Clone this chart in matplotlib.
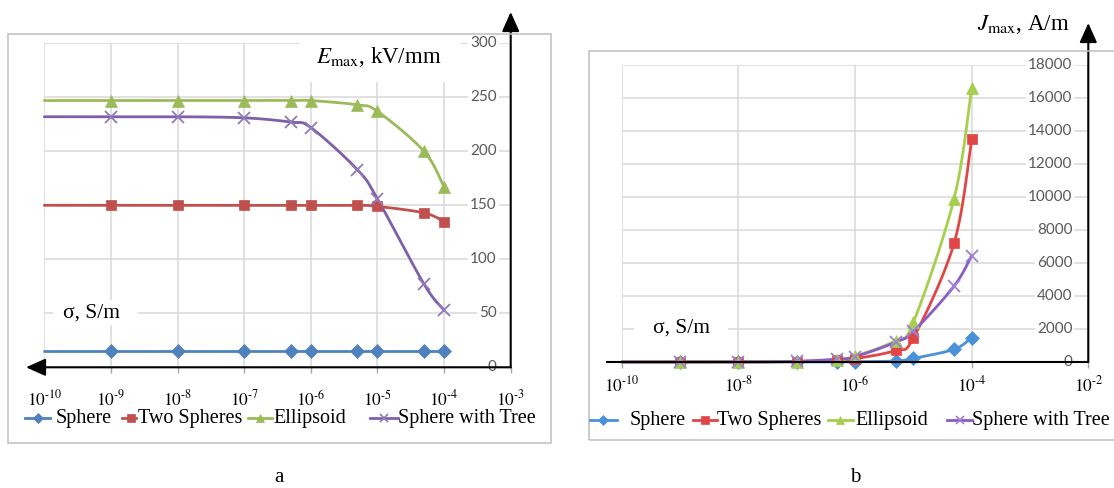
import numpy as np
import matplotlib
matplotlib.use("Agg")
import matplotlib.pyplot as plt
from matplotlib.lines import Line2D
from matplotlib.patches import Rectangle
from matplotlib.ticker import NullLocator

# ---------------- data ----------------
sigma = [1e-10, 1e-9, 1e-8, 1e-7, 5e-7, 1e-6, 5e-6, 1e-5, 5e-5, 1e-4]

series_names = ["Sphere", "Two Spheres", "Ellipsoid", "Sphere with Tree"]

# panel a: E_max, kV/mm
E_sphere = [15, 15, 15, 15, 15, 15, 15, 15, 15, 15]
E_two = [150, 150, 150, 150, 150, 150, 150, 149, 143, 135]
E_ellipsoid = [247, 247, 247, 247, 247, 247, 243, 237, 200, 167]
E_tree = [232, 232, 232, 231, 227, 222, 183, 156, 77, 53]

# panel b: J_max, A/m
J_sphere = [0, 0, 0, 0, 10, 20, 60, 220, 770, 1480]
J_two = [0, 0, 0, 30, 120, 200, 700, 1450, 7200, 13500]
J_ellipsoid = [0, 0, 0, 30, 120, 350, 1300, 2400, 9900, 16600]
J_tree = [0, 0, 0, 40, 180, 320, 1200, 1850, 4600, 6450]

HY = "\u2010"
xticks_a = [1e-10, 1e-9, 1e-8, 1e-7, 1e-6, 1e-5, 1e-4, 1e-3]
xlabels_a = [f"$10^{{{HY}{k}}}$" for k in (10, 9, 8, 7, 6, 5, 4, 3)]
yticks_a = [0, 50, 100, 150, 200, 250, 300]

xticks_b = [1e-10, 1e-8, 1e-6, 1e-4, 1e-2]
xlabels_b = [f"$10^{{{HY}{k}}}$" for k in (10, 8, 6, 4, 2)]
yticks_b = [0, 2000, 4000, 6000, 8000, 10000, 12000, 14000, 16000, 18000]

# ---------------- style ----------------
plt.rcParams["mathtext.fontset"] = "stix"
plt.rcParams["font.family"] = ["Liberation Serif", "DejaVu Serif"]
SERIF = ["Liberation Serif", "DejaVu Serif"]
SANS = ["Lato", "DejaVu Sans"]

cols_a = ["#4F81BD", "#C0504D", "#9BBB59", "#7F5FA8"]
cols_b = ["#4A90DA", "#E04646", "#A5CF4C", "#8A5CC6"]
mcol_tree_a = "#9179B8"
mcol_tree_b = "#9C7FD8"
markers = ["D", "s", "^", "x"]
msizes = [7, 7.5, 8, 8]

W, H = 1114, 488
fig = plt.figure(figsize=(W / 100, H / 100), dpi=100)
fig.patch.set_facecolor("white")


def fx(px):
    return px / W


def fy(py):
    return 1 - py / H


def smooth(xs, ys, n=24):
    u = np.log10(np.asarray(xs, float))
    v = np.asarray(ys, float)
    pts = np.column_stack([u, v])
    P = np.vstack([pts[0], pts, pts[-1]])
    out = []
    t = np.linspace(0, 1, n, endpoint=False)[:, None]
    for i in range(1, len(P) - 2):
        p0, p1, p2, p3 = P[i - 1], P[i], P[i + 1], P[i + 2]
        seg = 0.5 * ((2 * p1) + (-p0 + p2) * t + (2 * p0 - 5 * p1 + 4 * p2 - p3) * t ** 2
                     + (-p0 + 3 * p1 - 3 * p2 + p3) * t ** 3)
        out.append(seg)
    out.append(pts[-1][None])
    c = np.vstack(out)
    return 10 ** c[:, 0], c[:, 1]


# outer boxes
fig.add_artist(Rectangle((fx(7.5), fy(442.5)), fx(551) - fx(7.5), fy(33.5) - fy(442.5),
                         transform=fig.transFigure, fill=False, ec="#BFBFBF", lw=1.1))
fig.add_artist(Rectangle((fx(588.5), fy(440)), fx(1130) - fx(588.5), fy(50.5) - fy(440),
                         transform=fig.transFigure, fill=False, ec="#BFBFBF", lw=1.1))


def setup_axes(ax, xlim, ylim, xticks, xlabels, yticks, pad):
    ax.set_xscale("log")
    ax.set_xlim(*xlim)
    ax.set_ylim(*ylim)
    ax.set_xticks(xticks)
    ax.set_xticklabels(xlabels)
    ax.xaxis.set_minor_locator(NullLocator())
    ax.set_yticks(yticks)
    ax.tick_params(axis="y", length=0, labelleft=False)
    ax.tick_params(axis="x", length=4, width=1, color="#A6A6A6", labelsize=12.5, pad=pad)
    for s in ax.spines.values():
        s.set_visible(False)
    ax.grid(True, color="#D9D9D9", lw=1.1, zorder=0)
    ax.set_axisbelow(True)
    ax.patch.set_alpha(0)


def draw_series(ax, ydata, cols, mtree):
    for i, (ys, c) in enumerate(zip(ydata, cols)):
        sx, sy = smooth(sigma, ys)
        ax.plot(sx, sy, color=c, lw=2.0, zorder=3, solid_capstyle="round", clip_on=False)
        mc = mtree if markers[i] == "x" else c
        ax.plot(sigma[1:], ys[1:], ls="none", marker=markers[i], ms=msizes[i],
                color=mc, mec=mc, mew=1.3 if markers[i] == "x" else 0.5, zorder=4, clip_on=False)


def ylabels(ax, yticks, off_px, fmt):
    for v in yticks:
        kw = {}
        if v != 0:
            kw["bbox"] = dict(boxstyle="square,pad=0.12", fc="white", ec="none")
        ax.annotate(fmt(v), xy=(1, v), xycoords=("axes fraction", "data"),
                    xytext=(-off_px, 0), textcoords="offset pixels", ha="right", va="center",
                    fontsize=11, color="#595959", family=SANS, zorder=2, annotation_clip=False, **kw)


def legend(y_px, items, cols, mtree):
    for i, (lx0, lx1, mxp, tx) in enumerate(items):
        c = cols[i]
        fig.add_artist(Line2D([fx(lx0), fx(lx1)], [fy(y_px), fy(y_px)], transform=fig.transFigure,
                              color=c, lw=2.0))
        mc = mtree if markers[i] == "x" else c
        fig.add_artist(Line2D([fx(mxp)], [fy(y_px)], transform=fig.transFigure, ls="none",
                              marker=markers[i], ms=msizes[i] * 0.8, color=mc, mec=mc,
                              mew=1.2 if markers[i] == "x" else 0.5))
        fig.text(fx(tx), fy(y_px), series_names[i], ha="left", va="center", fontsize=14.5,
                 family=SERIF)


def arrow(ax, start, tip):
    ax.annotate("", xy=tip, xytext=start, xycoords="axes fraction", textcoords="axes fraction",
                arrowprops=dict(arrowstyle="-|>,head_length=0.85,head_width=0.38", color="black",
                                lw=1.5, mutation_scale=14, shrinkA=0, shrinkB=0),
                annotation_clip=False, zorder=5)


# ---------------- panel a ----------------
axa_l, axa_r, axa_t, axa_b = 44.3, 510.7, 43.3, 367.3
axa = fig.add_axes([fx(axa_l), fy(axa_b), (axa_r - axa_l) / W, (axa_b - axa_t) / H])
setup_axes(axa, (1e-10, 1e-3), (0, 300), xticks_a, xlabels_a, yticks_a, pad=12)
draw_series(axa, [E_sphere, E_two, E_ellipsoid, E_tree], cols_a, mcol_tree_a)
ylabels(axa, yticks_a, 14, lambda v: f"{v:d}")
wa = axa_r - axa_l
ha_ = axa_b - axa_t
arrow(axa, (1, 0), (1, (axa_b - 12) / ha_))
arrow(axa, (1, 0), ((26 - axa_l) / wa, 0))
# white label boxes
fig.add_artist(Rectangle((fx(300), fy(82)), fx(460) - fx(300), fy(42) - fy(82),
                         transform=fig.transFigure, fc="white", ec="none", zorder=1))
fig.text(fx(316), fy(57), r"$E_{\mathrm{max}}$, kV/mm", fontsize=16.5, ha="left", va="center",
         family=SERIF, zorder=2)
fig.add_artist(Rectangle((fx(53), fy(325)), fx(138) - fx(53), fy(300) - fy(325),
                         transform=fig.transFigure, fc="white", ec="none", zorder=1))
fig.text(fx(63), fy(313), "σ, S/m", fontsize=15.5, ha="left", va="center", family=SERIF, zorder=2)
legend(418, [(25, 50, 38, 56), (122, 136, 131, 138), (248, 272, 260, 273), (370, 398, 384, 398)],
       cols_a, mcol_tree_a)
fig.text(fx(279), fy(478), "a", fontsize=15, ha="center", va="center", family=SERIF)

# ---------------- panel b ----------------
axb_l, axb_r, axb_t, axb_b = 621.7, 1088.3, 65.0, 362.0
axb = fig.add_axes([fx(axb_l), fy(axb_b), (axb_r - axb_l) / W, (axb_b - axb_t) / H])
setup_axes(axb, (1e-10, 1e-2), (0, 18000), xticks_b, xlabels_b, yticks_b, pad=6)
draw_series(axb, [J_sphere, J_two, J_ellipsoid, J_tree], cols_b, mcol_tree_b)
ylabels(axb, yticks_b, 16, lambda v: f"{v:d}")
wb = axb_r - axb_l
hb = axb_b - axb_t
arrow(axb, (1, 0), (1, (axb_b - 23) / hb))
axb.add_artist(Line2D([(606.7 - axb_l) / wb, 1.0], [0, 0], transform=axb.transAxes,
                      color="black", lw=1.5, clip_on=False, zorder=5))
fig.text(fx(977), fy(25), r"$J_{\mathrm{max}}$, A/m", fontsize=16.5, ha="left", va="center",
         family=SERIF)
fig.add_artist(Rectangle((fx(634), fy(340)), fx(728) - fx(634), fy(316) - fy(340),
                         transform=fig.transFigure, fc="white", ec="none", zorder=1))
fig.text(fx(653), fy(328), "σ, S/m", fontsize=15.5, ha="left", va="center", family=SERIF, zorder=2)
legend(420, [(590, 617, 603, 630), (693, 717, 705, 717), (828, 853, 840, 855), (947, 972, 960, 972)],
       cols_b, mcol_tree_b)
fig.text(fx(855), fy(477), "b", fontsize=15, ha="center", va="center", family=SERIF)

fig.savefig("out.png", dpi=100, facecolor="white")
